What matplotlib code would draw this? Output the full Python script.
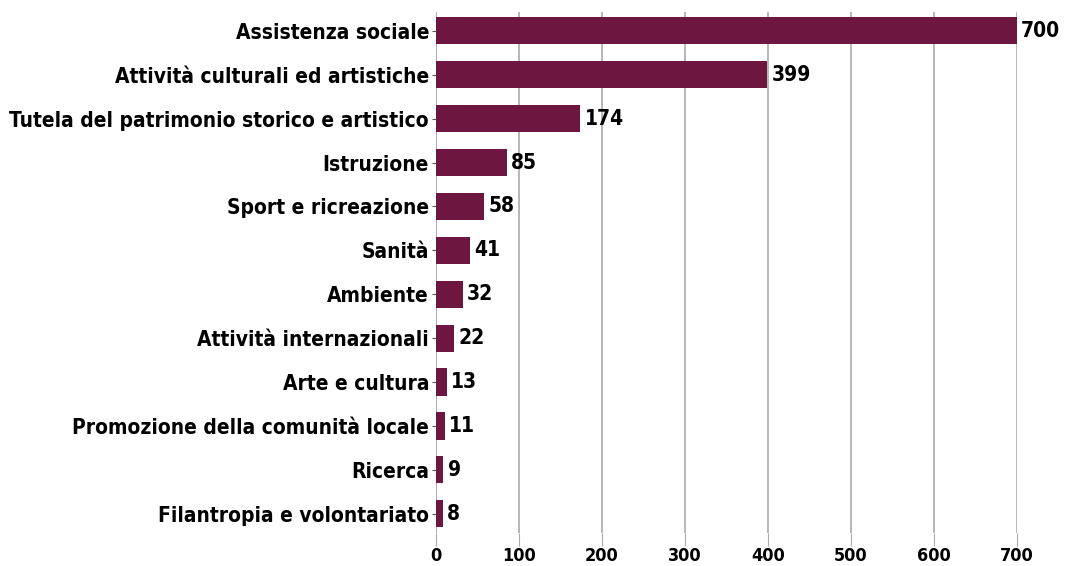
import matplotlib
matplotlib.use("Agg")
import matplotlib.pyplot as plt

categories = [
    "Assistenza sociale",
    "Attività culturali ed artistiche",
    "Tutela del patrimonio storico e artistico",
    "Istruzione",
    "Sport e ricreazione",
    "Sanità",
    "Ambiente",
    "Attività internazionali",
    "Arte e cultura",
    "Promozione della comunità locale",
    "Ricerca",
    "Filantropia e volontariato",
]
values = [700, 399, 174, 85, 58, 41, 32, 22, 13, 11, 9, 8]
xticks = [0, 100, 200, 300, 400, 500, 600, 700]

bar_color = "#6d1640"
font = dict(family="DejaVu Sans", weight="bold", stretch="condensed")

fig = plt.figure(figsize=(10.67, 5.66), dpi=100)
# axes from y=12px to y=533px
ax = fig.add_axes([0.4086, 1 - 533 / 566, 0.5445, (533 - 12) / 566])

pos = list(range(len(categories)))
ax.barh(pos, values, height=0.62, color=bar_color, zorder=3)
for p, v in zip(pos, values):
    ax.text(v + 5, p, str(v), va="center", ha="left", fontsize=15, **font)

ax.set_xlim(0, 700)
ax.set_ylim(11.44, -0.43)
ax.set_yticks(pos)
ax.set_yticklabels(categories, fontsize=15, **font)
ax.set_xticks(xticks)
ax.set_xticklabels([str(t) for t in xticks], fontsize=13, **font)
ax.grid(axis="x", color="#aaaaaa", linewidth=1.2, zorder=0)
for s in ax.spines.values():
    s.set_visible(False)
ax.tick_params(axis="x", length=9, color="#aaaaaa", pad=1)
ax.tick_params(axis="y", length=3, color="#555555", pad=2)
ax.axvline(0, color="#aaaaaa", linewidth=1.2, zorder=1)

fig.savefig("out.png", dpi=100)
